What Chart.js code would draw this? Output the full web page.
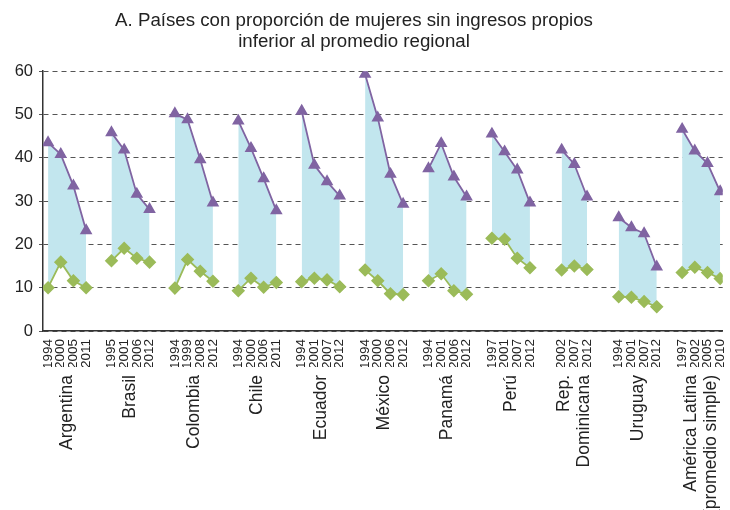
<!DOCTYPE html>
<html>
<head>
<meta charset="utf-8">
<script src="https://cdn.jsdelivr.net/npm/chart.js@4"></script>
<style>
  html, body { margin: 0; padding: 0; background: #fff; overflow: hidden; }
  canvas { display: block; }
</style>
</head>
<body>
<canvas id="chart" width="730" height="510"></canvas>
<script>
const countries = [
    'Argentina', 'Brasil', 'Colombia', 'Chile', 'Ecuador', 'México', 'Panamá', 'Perú',
    ['Rep.', 'Dominicana'], 'Uruguay', ['América Latina', '(promedio simple)']
];

const years = [
    [1994, 2000, 2005, 2011],
    [1995, 2001, 2006, 2012],
    [1994, 1999, 2008, 2012],
    [1994, 2000, 2006, 2011],
    [1994, 2001, 2007, 2012],
    [1994, 2000, 2006, 2012],
    [1994, 2001, 2006, 2012],
    [1997, 2001, 2007, 2012],
    [2002, 2007, 2012],
    [1994, 2001, 2007, 2012],
    [1997, 2002, 2005, 2010]
];

// upper line (purple triangles)
const mujeres = [
    [43.5, 40.8, 33.5, 23.2],
    [45.8, 41.8, 31.6, 28.1],
    [50.2, 48.8, 39.6, 29.6],
    [48.5, 42.2, 35.2, 27.8],
    [50.8, 38.3, 34.5, 31.2],
    [59.3, 49.2, 36.2, 29.3],
    [37.5, 43.3, 35.6, 31.0],
    [45.5, 41.4, 37.2, 29.6],
    [41.8, 38.5, 31.0],
    [26.2, 23.9, 22.5, 14.8],
    [46.6, 41.6, 38.7, 32.2]
];

// lower line (green diamonds)
const hombres = [
    [10.0, 15.9, 11.6, 10.0],
    [16.2, 19.1, 16.8, 15.9],
    [9.9, 16.5, 13.8, 11.5],
    [9.3, 12.2, 10.1, 11.2],
    [11.4, 12.2, 11.8, 10.2],
    [14.1, 11.6, 8.6, 8.4],
    [11.6, 13.2, 9.3, 8.5],
    [21.4, 21.2, 16.8, 14.6],
    [14.1, 15.0, 14.2],
    [7.9, 7.8, 6.8, 5.6],
    [13.5, 14.7, 13.5, 12.1]
];

const yTicks = [0, 10, 20, 30, 40, 50, 60];

const PURPLE = '#8064a2';
const GREEN = '#9bbb59';
const FILL = 'rgb(194, 230, 238)';
const FONT = "'Liberation Sans', Arial, sans-serif";

// each country takes 4 slots plus 1 empty slot; shorter groups are centred
const GROUP = 5;
const tickPos = [];
const tickText = [];
const countryPos = [];

function buildSeries(values) {
    const points = [];
    values.forEach((vals, g) => {
        const start = g * GROUP + (4 - vals.length) / 2;
        vals.forEach((v, i) => points.push({ x: start + i, y: v }));
        points.push({ x: g * GROUP + 4, y: null });
    });
    return points;
}

years.forEach((ys, g) => {
    const start = g * GROUP + (4 - ys.length) / 2;
    ys.forEach((y, i) => {
        tickPos.push(start + i);
        tickText.push(String(y));
    });
    // two-line labels: shift so both lines sit around the group centre
    const lines = Array.isArray(countries[g]) ? countries[g].length : 1;
    countryPos.push(g * GROUP + 1.5 - (lines - 1) * 0.8);
});

const X_MIN = -0.4;
const X_MAX = (countries.length - 1) * GROUP + 3.2;

// title in the original sits a bit left of the canvas centre
const LEFT_SHIFT = 22;

const ctx = document.getElementById('chart').getContext('2d');

new Chart(ctx, {
    type: 'line',
    data: {
        datasets: [
            {
                label: 'Mujeres',
                data: buildSeries(mujeres),
                borderColor: PURPLE,
                backgroundColor: FILL,
                pointBackgroundColor: PURPLE,
                pointBorderColor: PURPLE,
                pointStyle: 'triangle',
                pointRadius: 5.5,
                borderWidth: 1.8,
                fill: '+1',
                spanGaps: false
            },
            {
                label: 'Hombres',
                data: buildSeries(hombres),
                borderColor: GREEN,
                backgroundColor: GREEN,
                pointBackgroundColor: GREEN,
                pointBorderColor: GREEN,
                pointStyle: 'rectRot',
                pointRadius: 5.5,
                borderWidth: 1.8,
                fill: false,
                spanGaps: false
            }
        ]
    },
    options: {
        responsive: false,
        animation: false,
        devicePixelRatio: 1,
        layout: { padding: { left: -LEFT_SHIFT, right: 0, top: 0, bottom: 0 } },
        plugins: {
            legend: { display: false },
            tooltip: { enabled: false },
            filler: { drawTime: 'beforeDatasetsDraw' },
            title: {
                display: true,
                text: ['A. Países con proporción de mujeres sin ingresos propios',
                       'inferior al promedio regional'],
                color: '#222',
                font: { family: FONT, size: 18.7, weight: 'normal', lineHeight: 1.1 },
                padding: { top: 11, bottom: 19 }
            }
        },
        scales: {
            x: {
                type: 'linear',
                min: X_MIN,
                max: X_MAX,
                weight: 1,
                grid: { display: false },
                border: { display: true, color: '#333', width: 1.5 },
                afterBuildTicks: (scale) => {
                    scale.ticks = tickPos.map(v => ({ value: v }));
                },
                afterFit: (scale) => {
                    scale.height = 36;
                    scale.paddingLeft = 0;
                    scale.paddingRight = 0;
                },
                ticks: {
                    autoSkip: false,
                    minRotation: 90,
                    maxRotation: 90,
                    padding: 0,
                    color: '#222',
                    font: { family: FONT, size: 13.5 },
                    callback: (value, index) => tickText[index]
                }
            },
            x2: {
                type: 'linear',
                position: 'bottom',
                min: X_MIN,
                max: X_MAX,
                weight: 2,
                grid: { display: false },
                border: { display: false },
                afterBuildTicks: (scale) => {
                    scale.ticks = countryPos.map(v => ({ value: v }));
                },
                afterFit: (scale) => {
                    scale.height = 143;
                    scale.paddingLeft = 0;
                    scale.paddingRight = 0;
                },
                ticks: {
                    autoSkip: false,
                    minRotation: 90,
                    maxRotation: 90,
                    padding: 0,
                    color: '#222',
                    font: { family: FONT, size: 17.5, lineHeight: 1.15 },
                    callback: (value, index) => countries[index]
                }
            },
            y: {
                min: 0,
                max: 60,
                afterBuildTicks: (scale) => {
                    scale.ticks = yTicks.map(v => ({ value: v }));
                },
                afterFit: (scale) => {
                    scale.width = 43 + LEFT_SHIFT;
                },
                grid: {
                    color: '#555',
                    lineWidth: 1,
                    tickLength: 4
                },
                border: { display: true, color: '#333', width: 1.5, dash: [5, 4] },
                ticks: {
                    padding: 6,
                    color: '#222',
                    font: { family: FONT, size: 16.5 }
                }
            }
        }
    }
});
</script>
</body>
</html>
